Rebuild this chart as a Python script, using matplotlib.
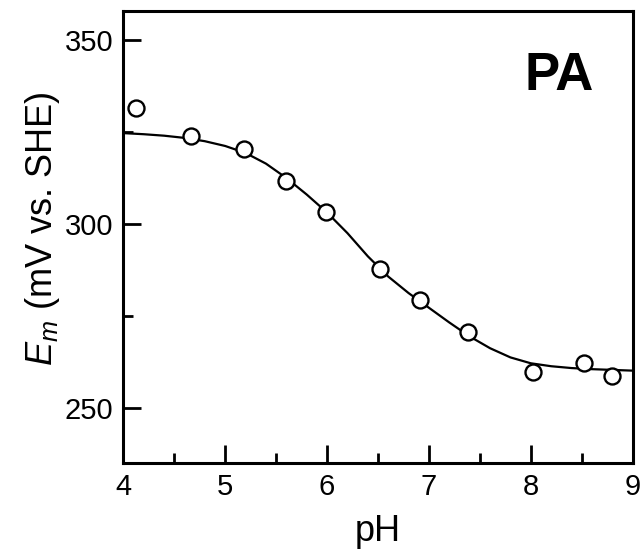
import matplotlib
matplotlib.use("Agg")
import matplotlib.pyplot as plt
from matplotlib.ticker import MultipleLocator

ph_data = [4.12, 4.66, 5.18, 5.60, 5.99, 6.52, 6.91, 7.38, 8.02, 8.52, 8.80]
em_data = [331.7, 323.9, 320.4, 311.9, 303.4, 287.8, 279.3, 270.7, 259.8, 262.4, 258.8]

# fitted curve, read every 0.2 pH unit
ph_fit = [4.0, 4.2, 4.4, 4.6, 4.8, 5.0, 5.2, 5.4, 5.6, 5.8, 6.0, 6.2, 6.4,
          6.6, 6.8, 7.0, 7.2, 7.4, 7.6, 7.8, 8.0, 8.2, 8.4, 8.6, 8.8, 9.0]
em_fit = [324.8, 324.5, 324.1, 323.5, 322.6, 321.3, 319.4, 316.5, 312.6, 308.1,
          303.2, 297.6, 291.3, 285.8, 281.3, 277.3, 273.3, 269.5, 266.3, 263.8,
          262.2, 261.4, 260.9, 260.6, 260.4, 260.2]

xticks = [4, 5, 6, 7, 8, 9]
yticks = [250, 300, 350]

plt.rcParams['font.family'] = ['Liberation Sans', 'DejaVu Sans']
plt.rcParams['mathtext.fontset'] = 'custom'
plt.rcParams['mathtext.rm'] = 'Liberation Sans'
plt.rcParams['mathtext.it'] = 'Liberation Sans:italic'

fig = plt.figure(figsize=(6.44, 5.52), dpi=100)
ax = fig.add_axes([0.1915, 0.1607, 0.7909, 0.8193])

ax.plot(ph_fit, em_fit, color='black', lw=1.6)
ax.plot(ph_data, em_data, 'o', ms=11.5, mfc='white', mec='black', mew=1.7,
        linestyle='none')

ax.set_xlim(4, 9)
ax.set_ylim(235, 358)
ax.set_xticks(xticks)
ax.set_yticks(yticks)
ax.xaxis.set_minor_locator(MultipleLocator(0.5))
ax.yaxis.set_minor_locator(MultipleLocator(25))
ax.tick_params(which='both', direction='in', width=2, top=False, right=False,
               labelsize=21, pad=7)
ax.tick_params(which='major', length=13)
ax.tick_params(which='minor', length=7)
for s in ax.spines.values():
    s.set_linewidth(2.2)

ax.set_xlabel('pH', fontsize=26, labelpad=9)
ax.set_ylabel(r'$E_m$ (mV vs. SHE)', fontsize=26)
ax.yaxis.set_label_coords(-0.12, 0.52)

ax.text(0.855, 0.857, 'PA', transform=ax.transAxes, ha='center', va='center',
        fontsize=38, fontweight='bold')

fig.savefig('out.png', dpi=100)
